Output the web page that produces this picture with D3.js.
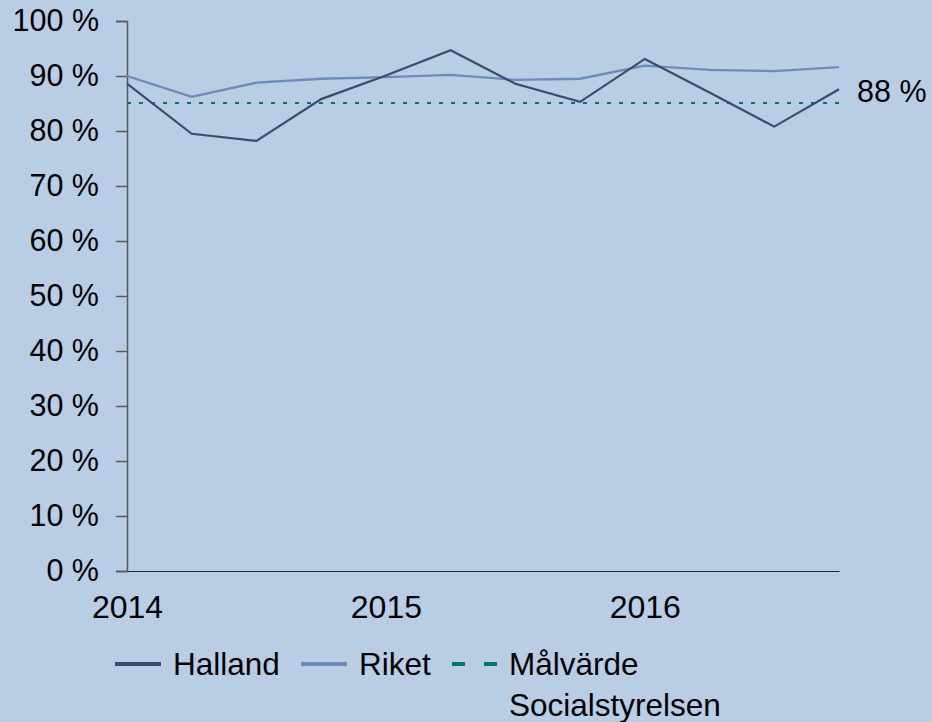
<!DOCTYPE html>
<html>
<head>
<meta charset="utf-8">
<script src="https://cdn.jsdelivr.net/npm/d3@7/dist/d3.min.js"></script>
<style>
  body { margin: 0; background: #b9cde5; }
  svg { display: block; font-family: "Liberation Sans", Arial, sans-serif; }
</style>
</head>
<body>
<script>
// quarters 2014 - 2016
const quarters = ["2014 K1", "2014 K2", "2014 K3", "2014 K4",
                  "2015 K1", "2015 K2", "2015 K3", "2015 K4",
                  "2016 K1", "2016 K2", "2016 K3", "2016 K4"];
const yearLabels = {"2014 K1": "2014", "2015 K1": "2015", "2016 K1": "2016"};
const halland = [88.6, 79.5, 78.2, 85.8, 90.1, 94.7, 88.6, 85.3, 93.1, 87.0, 80.8, 87.6];
const riket = [90.0, 86.2, 88.8, 89.5, 89.8, 90.2, 89.3, 89.5, 91.9, 91.1, 90.9, 91.6];
const target = 85.1;
const targetLabel = "88 %";
const yTicks = [0, 10, 20, 30, 40, 50, 60, 70, 80, 90, 100];

let w = 932;
let h = 722;

let svg = d3.select("body")
  .append("svg")
  .attr("width", w)
  .attr("height", h)

let x = d3.scalePoint()
  .domain(quarters)
  .range([127, 839])

let y = d3.scaleLinear()
  .domain([0, 100])
  .range([571, 21])

// y axis
let yAxis = d3.axisLeft(y).tickValues(yTicks).tickSize(11).tickPadding(17)
  .tickFormat(d => d + " %")
let yg = svg.append("g")
  .attr("transform", "translate(127, 0)")
  .call(yAxis)
yg.select(".domain").attr("stroke", "#595959").attr("stroke-width", 1.5)
yg.selectAll(".tick line").attr("stroke", "#595959").attr("stroke-width", 1.5)
yg.selectAll("text").attr("font-size", 30.5).attr("fill", "#000")
  .attr("font-family", "Liberation Sans, Arial, sans-serif")

// x axis
let xAxis = d3.axisBottom(x).tickSize(0).tickPadding(24)
  .tickValues(Object.keys(yearLabels))
  .tickFormat(d => yearLabels[d])
let xg = svg.append("g")
  .attr("transform", "translate(0, 571)")
  .call(xAxis)
xg.select(".domain").attr("stroke", "#262626").attr("stroke-width", 1.2)
xg.selectAll("text").attr("font-size", 32).attr("fill", "#000")
  .attr("font-family", "Liberation Sans, Arial, sans-serif")

// target line
svg.append("line")
  .attr("x1", x(quarters[0]))
  .attr("x2", x(quarters[quarters.length - 1]))
  .attr("y1", y(target))
  .attr("y2", y(target))
  .attr("stroke", "#00786e")
  .attr("stroke-width", 2)
  .attr("stroke-dasharray", "4,8")

svg.append("text")
  .attr("x", 857)
  .attr("y", y(target) - 12)
  .attr("dy", "0.35em")
  .attr("font-size", 30.5)
  .text(targetLabel)

let line = d3.line()
  .x((d, i) => x(quarters[i]))
  .y(d => y(d))

svg.append("path")
  .datum(riket)
  .attr("d", line)
  .attr("fill", "none")
  .attr("stroke", "#6d8bbd")
  .attr("stroke-width", 2.3)

svg.append("path")
  .datum(halland)
  .attr("d", line)
  .attr("fill", "none")
  .attr("stroke", "#3a4d6d")
  .attr("stroke-width", 2.2)

// legend
let legend = svg.append("g").attr("font-size", 31.5)
const legendItems = [
  {name: "Halland", color: "#3a4d6d", dash: null, x: 115, tx: 173},
  {name: "Riket", color: "#6d8bbd", dash: null, x: 301, tx: 359},
  {name: "Målvärde", color: "#00786e", dash: "13,19", x: 452, tx: 509}
]
legendItems.forEach(it => {
  legend.append("line")
    .attr("x1", it.x).attr("x2", it.x + 46)
    .attr("y1", 664).attr("y2", 664)
    .attr("stroke", it.color)
    .attr("stroke-width", 4)
    .attr("stroke-dasharray", it.dash)
  legend.append("text")
    .attr("x", it.tx).attr("y", 664).attr("dy", "0.35em")
    .text(it.name)
})
legend.append("text")
  .attr("x", 509).attr("y", 705).attr("dy", "0.35em")
  .text("Socialstyrelsen")
</script>
</body>
</html>
